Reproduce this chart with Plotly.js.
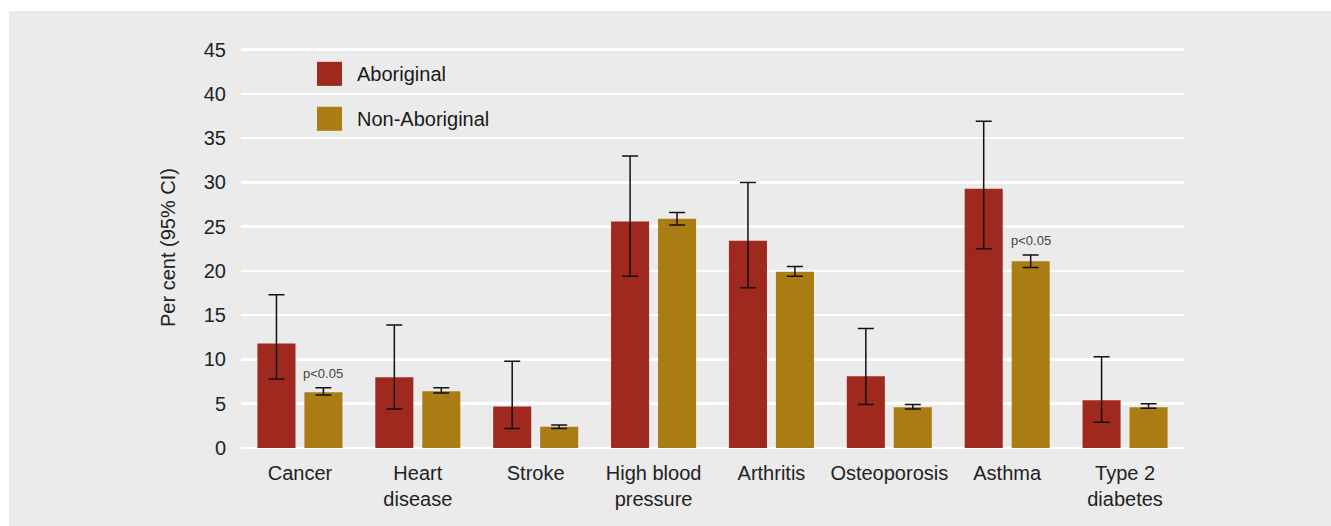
<!DOCTYPE html>
<html>
<head>
<meta charset="utf-8">
<script src="https://cdn.plot.ly/plotly-3.0.1.min.js"></script>
<style>
  html, body { margin: 0; padding: 0; background: #ffffff; width: 1331px; height: 526px; overflow: hidden; }
  #chart { position: absolute; left: 9px; top: 11px; width: 1322px; height: 515px; }
</style>
</head>
<body>
<div id="chart"></div>
<script>
const categories = ["Cancer", "Heart<br>disease", "Stroke", "High blood<br>pressure", "Arthritis", "Osteoporosis", "Asthma", "Type 2<br>diabetes"];
const seriesNames = ["Aboriginal", "Non-Aboriginal"];
const seriesColors = ["#A0291F", "#AA7C14"];

const aboriginal      = [11.8, 8.0, 4.7, 25.6, 23.4, 8.1, 29.3, 5.4];
const aboriginalLow   = [7.8, 4.4, 2.2, 19.4, 18.1, 4.9, 22.5, 2.9];
const aboriginalHigh  = [17.3, 13.9, 9.8, 33.0, 30.0, 13.5, 36.9, 10.3];

const nonAboriginal     = [6.3, 6.4, 2.4, 25.9, 19.9, 4.6, 21.1, 4.6];
const nonAboriginalLow  = [6.0, 6.2, 2.2, 25.2, 19.4, 4.4, 20.4, 4.5];
const nonAboriginalHigh = [6.8, 6.8, 2.6, 26.6, 20.5, 4.9, 21.8, 5.0];

const significantIdx = [0, 6];
const significantLabel = "p<0.05";
const yTicks = [0, 5, 10, 15, 20, 25, 30, 35, 40, 45];

const FONT = "'Liberation Sans', Arial, Helvetica, sans-serif";

function errArrays(vals, lo, hi) {
  return {
    type: 'data', symmetric: false,
    array: hi.map((h, i) => h - vals[i]),
    arrayminus: lo.map((l, i) => vals[i] - l),
    color: '#111111', thickness: 1.5, width: 8
  };
}

const traces = [
  { type: 'bar', name: seriesNames[0], x: categories, y: aboriginal,
    marker: { color: seriesColors[0] }, error_y: errArrays(aboriginal, aboriginalLow, aboriginalHigh),
    hoverinfo: 'skip' },
  { type: 'bar', name: seriesNames[1], x: categories, y: nonAboriginal,
    marker: { color: seriesColors[1] }, error_y: errArrays(nonAboriginal, nonAboriginalLow, nonAboriginalHigh),
    hoverinfo: 'skip' }
];

const annotations = significantIdx.map(i => ({
  x: categories[i], xref: 'x', y: nonAboriginalHigh[i], yref: 'y',
  xshift: 23.5, yshift: 5, yanchor: 'bottom', xanchor: 'center',
  text: significantLabel, showarrow: false,
  font: { family: FONT, size: 13, color: '#444444' }
}));

// custom legend (large swatches)
const legendY = [0.933, 0.821];
const shapes = [];
seriesNames.forEach((name, k) => {
  shapes.push({ type: 'rect', xref: 'paper', yref: 'paper',
    x0: 0.0806, x1: 0.1071, y0: legendY[k] - 0.030, y1: legendY[k] + 0.030,
    fillcolor: seriesColors[k], line: { width: 0 } });
  annotations.push({ xref: 'paper', yref: 'paper', x: 0.1205, y: legendY[k],
    xanchor: 'left', yanchor: 'middle', text: name, showarrow: false,
    font: { family: FONT, size: 20, color: '#1a1a1a' } });
});

const layout = {
  width: 1322, height: 515,
  paper_bgcolor: '#EBEBEB', plot_bgcolor: '#EBEBEB',
  margin: { l: 232, r: 147, t: 36, b: 78, pad: 0 },
  showlegend: false,
  barmode: 'group', bargap: 0.203, bargroupgap: 0.19,
  font: { family: FONT, size: 20, color: '#222222' },
  xaxis: {
    type: 'category', showgrid: false, zeroline: false, showline: false,
    ticks: '', tickfont: { family: FONT, size: 20, color: '#222222' },
    ticklabelstandoff: 11, automargin: false
  },
  yaxis: {
    range: [0, 45.3], tickvals: yTicks, ticktext: yTicks.map(String),
    showgrid: true, gridcolor: '#ffffff', gridwidth: 2.5,
    zeroline: true, zerolinecolor: '#ffffff', zerolinewidth: 2.5,
    showline: false, ticks: '', ticklabelstandoff: 14,
    tickfont: { family: FONT, size: 20, color: '#222222' },
    title: { text: 'Per cent (95% CI)', font: { family: FONT, size: 20, color: '#222222' }, standoff: 22 },
    automargin: false
  },
  shapes: shapes,
  annotations: annotations
};

Plotly.newPlot('chart', traces, layout, { staticPlot: true, displayModeBar: false });
</script>
</body>
</html>
